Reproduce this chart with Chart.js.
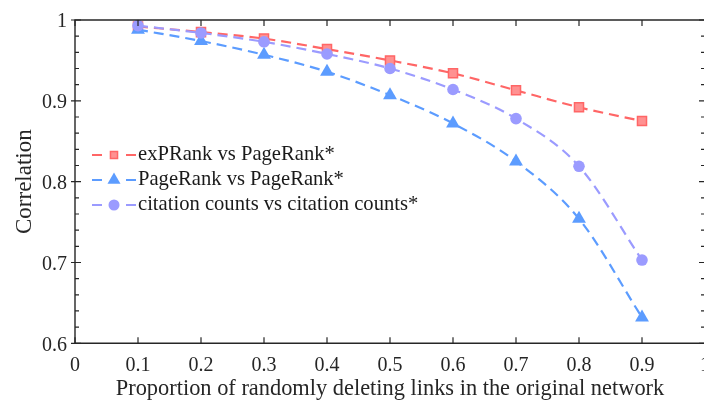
<!DOCTYPE html>
<html>
<head>
<meta charset="utf-8">
<script src="https://cdn.jsdelivr.net/npm/chart.js@4/dist/chart.umd.min.js"></script>
<style>
html,body{margin:0;padding:0;background:#fff;overflow:hidden;}
#wrap{width:704px;height:403px;overflow:hidden;position:relative;}
canvas{display:block;}
</style>
</head>
<body>
<div id="wrap"><canvas id="c" width="720" height="403"></canvas></div>
<script>
// ---- data ----
const proportions = [0.1, 0.2, 0.3, 0.4, 0.5, 0.6, 0.7, 0.8, 0.9];
const exPRankVsPageRank = [0.992, 0.985, 0.977, 0.964, 0.950, 0.934, 0.913, 0.892, 0.875];
const pageRankVsPageRank = [0.988, 0.974, 0.957, 0.936, 0.907, 0.872, 0.825, 0.754, 0.632];
const citationVsCitation = [0.993, 0.984, 0.973, 0.958, 0.940, 0.914, 0.878, 0.819, 0.703];
const seriesNames = ['exPRank vs PageRank*', 'PageRank vs PageRank*', 'citation counts vs citation counts*'];
const xTickValues = [0, 0.1, 0.2, 0.3, 0.4, 0.5, 0.6, 0.7, 0.8, 0.9, 1];
const yTickValues = [0.6, 0.7, 0.8, 0.9, 1];
const xTitle = 'Proportion of randomly deleting links in the original network';
const yTitle = 'Correlation';

const RED = 'rgb(255,102,102)', RED_FILL = 'rgb(255,145,145)';
const BLUE = 'rgb(92,156,255)';
const PURPLE = 'rgb(155,155,255)';
const FONT = "'Liberation Serif', 'Times New Roman', serif";
const AXIS = '#262626';

function pts(ys){ return proportions.map((x,i)=>({x:x,y:ys[i]})); }

const series = [
  {label: seriesNames[0], data: pts(exPRankVsPageRank), color: RED, fill: RED_FILL, style:'rect', r:6.4, order:3},
  {label: seriesNames[1], data: pts(pageRankVsPageRank), color: BLUE, fill: BLUE, style:'triangle', r:8, order:2},
  {label: seriesNames[2], data: pts(citationVsCitation), color: PURPLE, fill: PURPLE, style:'circle', r:5.8, order:1}
];

const axesPlugin = {
  id: 'axesPlugin',
  afterDraw(chart){
    const {ctx, chartArea: a, scales:{x, y}} = chart;
    ctx.save();
    ctx.strokeStyle = AXIS;
    ctx.lineWidth = 1.4;
    ctx.beginPath();
    ctx.rect(a.left, a.top, a.right - a.left, a.bottom - a.top);
    ctx.stroke();
    ctx.lineWidth = 1.2;
    ctx.beginPath();
    xTickValues.forEach(v=>{
      const px = x.getPixelForValue(v);
      ctx.moveTo(px, a.bottom); ctx.lineTo(px, a.bottom - 6);
      ctx.moveTo(px, a.top); ctx.lineTo(px, a.top + 6);
    });
    for (let k = 0; k <= 20; k++) {
      const v = 0.6 + k * 0.02;
      const py = y.getPixelForValue(v);
      const major = (k % 5 === 0);
      if (major) {
        ctx.moveTo(a.left - 4, py); ctx.lineTo(a.left + 6, py);
        ctx.moveTo(a.right - 6, py); ctx.lineTo(a.right + 4, py);
      } else {
        ctx.moveTo(a.left, py); ctx.lineTo(a.left + 4, py);
        ctx.moveTo(a.right - 4, py); ctx.lineTo(a.right, py);
      }
    }
    ctx.stroke();
    ctx.restore();
  }
};

function drawMarker(ctx, style, cx, cy, r, stroke, fill){
  ctx.save();
  ctx.fillStyle = fill; ctx.strokeStyle = stroke; ctx.lineWidth = 1.5; ctx.setLineDash([]);
  ctx.beginPath();
  if (style === 'rect') {
    const s = Math.SQRT1_2 * r;
    ctx.rect(cx - s, cy - s, 2*s, 2*s);
    ctx.fill(); ctx.stroke();
  } else if (style === 'triangle') {
    ctx.moveTo(cx, cy - r);
    ctx.lineTo(cx + r*Math.sin(Math.PI/3), cy + r*0.5);
    ctx.lineTo(cx - r*Math.sin(Math.PI/3), cy + r*0.5);
    ctx.closePath(); ctx.fill();
  } else {
    ctx.arc(cx, cy, r, 0, Math.PI*2); ctx.fill();
  }
  ctx.restore();
}

const legendPlugin = {
  id: 'customLegend',
  afterDraw(chart){
    const ctx = chart.ctx;
    const rows = [155, 180, 205];
    ctx.save();
    series.forEach((s, i)=>{
      const yy = rows[i];
      ctx.strokeStyle = s.color; ctx.lineWidth = 2.2;
      ctx.beginPath();
      ctx.moveTo(92, yy); ctx.lineTo(102, yy);
      ctx.moveTo(126, yy); ctx.lineTo(136, yy);
      ctx.stroke();
      const lr = s.style === 'rect' ? 5 : (s.style === 'triangle' ? 7.5 : 5.5);
      drawMarker(ctx, s.style, 114, yy, lr, s.color, s.fill);
      ctx.fillStyle = '#1a1a1a';
      ctx.font = '20.6px ' + FONT;
      ctx.textBaseline = 'middle';
      ctx.textAlign = 'left';
      ctx.fillText(s.label, 138, yy);
    });
    ctx.restore();
  }
};

new Chart(document.getElementById('c'), {
  type: 'line',
  data: {
    datasets: series.map(s=>({
      label: s.label,
      data: s.data,
      borderColor: s.color,
      backgroundColor: s.fill,
      pointBorderColor: s.color,
      pointBackgroundColor: s.fill,
      pointStyle: s.style,
      pointRadius: s.r,
      pointBorderWidth: s.style === 'rect' ? 1.5 : 0,
      borderWidth: 2.2,
      borderDash: [10, 6],
      cubicInterpolationMode: 'monotone',
      fill: false,
      order: s.order,
      clip: false
    }))
  },
  options: {
    responsive: false,
    devicePixelRatio: 1,
    animation: false,
    layout: { padding: { left: 0, top: 17, right: 15, bottom: 0 } },
    plugins: { legend: { display: false }, tooltip: { enabled: false } },
    scales: {
      x: {
        type: 'linear', min: 0, max: 1,
        grid: { display: false, drawTicks: false },
        border: { display: false },
        afterFit(scale){ scale.height = 59.7; },
        afterBuildTicks(scale){ scale.ticks = xTickValues.map(v=>({value:v})); },
        ticks: {
          padding: 10, color: '#262626', maxRotation: 0, autoSkip: false,
          font: { family: FONT, size: 20 },
          callback: v => String(v)
        },
        title: { display: true, text: xTitle, color: '#262626', font: { family: FONT, size: 22.4 }, padding: { top: 0, bottom: 0 } }
      },
      y: {
        min: 0.6, max: 1,
        grid: { display: false, drawTicks: false },
        border: { display: false },
        afterFit(scale){ scale.width = 75; },
        afterBuildTicks(scale){ scale.ticks = yTickValues.map(v=>({value:v})); },
        ticks: {
          padding: 8, labelOffset: 2, color: '#262626', autoSkip: false,
          font: { family: FONT, size: 20 },
          callback: v => String(Math.round(v*10)/10)
        },
        title: { display: true, text: yTitle, color: '#262626', font: { family: FONT, size: 23 }, padding: { top: 11, bottom: 0 } }
      }
    }
  },
  plugins: [axesPlugin, legendPlugin]
});
</script>
</body>
</html>
